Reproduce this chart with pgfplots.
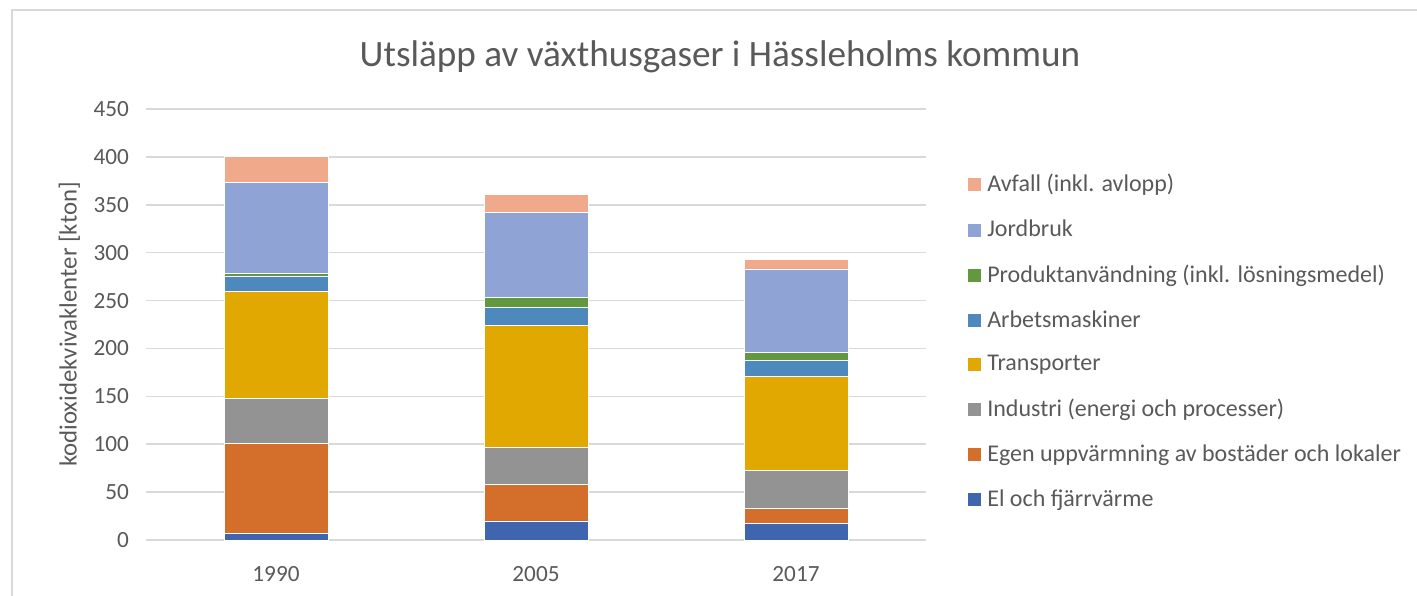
\documentclass[border=0pt]{standalone}
\usepackage{pgfplots}
\pgfplotsset{compat=1.18}
\usepackage{fontspec}
\setmainfont{Carlito}
\definecolor{cEl}{HTML}{3F65AF}
\definecolor{cEgen}{HTML}{D36E2B}
\definecolor{cInd}{HTML}{939393}
\definecolor{cTr}{HTML}{E0A800}
\definecolor{cAm}{HTML}{4E89BE}
\definecolor{cPr}{HTML}{62993E}
\definecolor{cJo}{HTML}{8FA3D4}
\definecolor{cAv}{HTML}{F1A98B}
\definecolor{txt}{HTML}{595959}
\definecolor{grd}{HTML}{D9D9D9}
\begin{document}
\begin{tikzpicture}
\useasboundingbox (-73pt,-27.5pt) rectangle (635.5pt,270pt);
\draw[grd, line width=1pt] (-67pt,-40pt) -- (-67pt,265pt) -- (650pt,265pt);
\node[txt, font=\fontsize{18.6}{22}\selectfont] at (287pt,241.5pt) {Utsläpp av växthusgaser i Hässleholms kommun};
\begin{axis}[
  at={(0,0)}, anchor=south west,
  scale only axis, width=390pt, height=215.5pt,
  ybar stacked, bar width=52pt,
  xmin=-0.5, xmax=2.5, ymin=0, ymax=450,
  xtick={0,1,2}, xticklabels={1990,2005,2017},
  ytick={0,50,...,450},
  ymajorgrids, grid style={grd, line width=0.8pt},
  axis line style={draw=none},
  axis x line*=bottom,
  x axis line style={grd, line width=0.8pt},
  axis y line*=left,
  y axis line style={draw=none},
  major tick length=0pt,
  tick label style={txt, font=\fontsize{11.6}{13}\selectfont},
  /pgf/number format/assume math mode=true,
  ylabel={kodioxidekvivaklenter [kton]},
  ylabel style={txt, font=\fontsize{12.4}{15}\selectfont},
  yticklabel style={xshift=-5pt},
  xticklabel style={yshift=-9.5pt},
  reverse legend,
  legend cell align=left,
  legend style={at={(1.044,0.868)}, anchor=north west, draw=none, fill=none,
    font=\fontsize{12}{14}\selectfont, text=txt, row sep=8.6pt,
    /tikz/every even column/.append style={column sep=1pt},
    /tikz/every odd column/.append style={column sep=1pt}},
  legend image code/.code={\fill[#1] (0pt,-3.5pt) rectangle (7pt,3.5pt);},
  every axis plot/.append style={draw=white, line width=0.3pt},
]
\addplot[fill=cEl] coordinates {(0,7) (1,20) (2,17.7)};
\addplot[fill=cEgen] coordinates {(0,93.8) (1,37.9) (2,15.6)};
\addplot[fill=cInd] coordinates {(0,47.6) (1,39) (2,39.6)};
\addplot[fill=cTr] coordinates {(0,111.1) (1,126.8) (2,97.9)};
\addplot[fill=cAm] coordinates {(0,16.3) (1,19.5) (2,16.7)};
\addplot[fill=cPr] coordinates {(0,2.8) (1,10.1) (2,8.7)};
\addplot[fill=cJo] coordinates {(0,95.1) (1,88.8) (2,86.8)};
\addplot[fill=cAv] coordinates {(0,27.1) (1,18.8) (2,9.7)};
\legend{El och fjärrvärme, Egen uppvärmning av bostäder och lokaler, Industri (energi och processer), Transporter, Arbetsmaskiner, Produktanvändning (inkl. lösningsmedel), Jordbruk, Avfall (inkl. avlopp)}
\end{axis}
\end{tikzpicture}
\end{document}
